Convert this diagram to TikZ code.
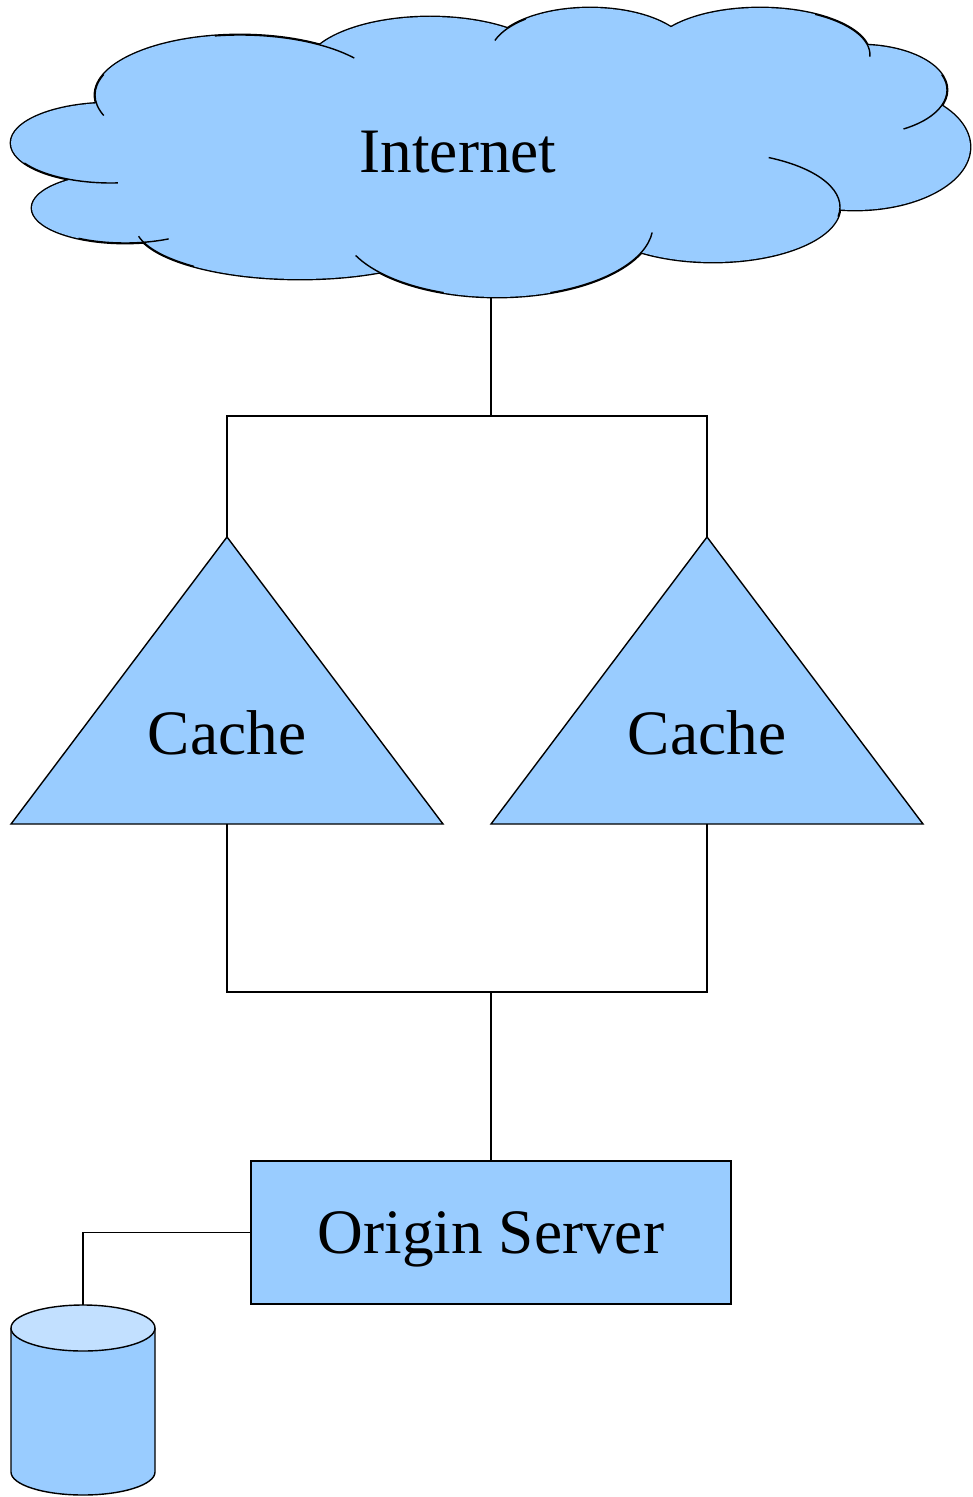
\documentclass[tikz,border=0pt]{standalone}
\usepackage{fontspec}
\setmainfont{Liberation Serif}
\usepackage{tikz}
\usetikzlibrary{calc}
\definecolor{netblue}{RGB}{153,204,255}
\definecolor{lidblue}{RGB}{194,224,255}
\def\puffarc(#1,#2)(#3:#4:#5:#6){\draw ($(#1,#2)+({#5*cos(#3)},{#6*sin(#3)})$) arc (#3:#4:#5 and #6);}

\begin{document}
\begin{tikzpicture}[x=0.01cm, y=-0.01cm,
		bigtext/.style={font=\fontsize{18}{21}\selectfont, inner sep=0pt},
		part/.style={draw=black, fill=netblue}]
		%%%%% START %%%%%
		\useasboundingbox (0,0) rectangle (972,1497);
		
		% cloud
		\foreach \cx/\cy/\rx/\ry in {111/143/100/40, 125/208/93/35, 300/225/165/54, 497/225/156/72, 713/207/127/55, 855/147/115/63, 860/90/87/45, 760/55/110/47, 590/55/100/47, 430/70/125/53, 240/95/145/60}
			\draw[line width=0.8pt] (\cx,\cy) ellipse [x radius=\rx, y radius=\ry];
		\foreach \cx/\cy/\rx/\ry in {111/143/100/40, 125/208/93/35, 300/225/165/54, 497/225/156/72, 713/207/127/55, 855/147/115/63, 860/90/87/45, 760/55/110/47, 590/55/100/47, 430/70/125/53, 240/95/145/60}
			\fill[netblue] (\cx,\cy) ellipse [x radius=\rx, y radius=\ry];
		\fill[netblue] (490,150) ellipse [x radius=370, y radius=100];
		
		\puffarc(240,95)(200:160:145:60)
		\puffarc(111,143)(150:86:100:40)
		\puffarc(125,208)(120:62:93:35)
		\puffarc(300,225)(168:130:165:54)
		\puffarc(497,225)(155:110:156:72)
		\puffarc(497,225)(70:6:156:72)
		\puffarc(713,207)(10:-64:127:55)
		\puffarc(860,90)(-20:60:87:45)
		\puffarc(760,55)(-60:2:110:47)
		\puffarc(590,55)(-130:-162:100:47)
		\puffarc(240,95)(-100:-38:145:60)
		
		\node[bigtext] (internet) at (458,152) {Internet};
		\coordinate (netBot) at (491,297);
		
		% caches
		\coordinate (apexA) at (227,537);
		\coordinate (apexB) at (707,537);
		\coordinate (baseA) at (227,824);
		\coordinate (baseB) at (707,824);
		\draw[part] (apexA) -- (11,824) -- (443,824) -- cycle;
		\draw[part] (apexB) -- (491,824) -- (923,824) -- cycle;
		\node[bigtext] (cacheA) at (227,733) {Cache};
		\node[bigtext] (cacheB) at (707,733) {Cache};
		
		% origin and store
		\node[part, bigtext, minimum width=4.8cm, minimum height=1.43cm, text depth=0pt] (origin) at (491,1232.5) {Origin Server};
		\draw[fill=netblue] (11,1328) -- (11,1472) arc (180:0:72 and 23) -- (155,1328);
		\draw[fill=lidblue] (83,1328) ellipse [x radius=72, y radius=23];
		\coordinate (dbTop) at (83,1305);
		
		% links
		\coordinate (hubTop) at (491,416);
		\coordinate (hubBot) at (491,992);
		\draw (netBot) -- (hubTop);
		\draw (apexA) |- (hubTop) -| (apexB);
		\draw (baseA) |- (hubBot) -| (baseB);
		\draw (hubBot) -- (origin.north);
		\draw (origin.west) -| (dbTop);
		
		%%%%% END %%%%%
	\end{tikzpicture}
\end{document}
